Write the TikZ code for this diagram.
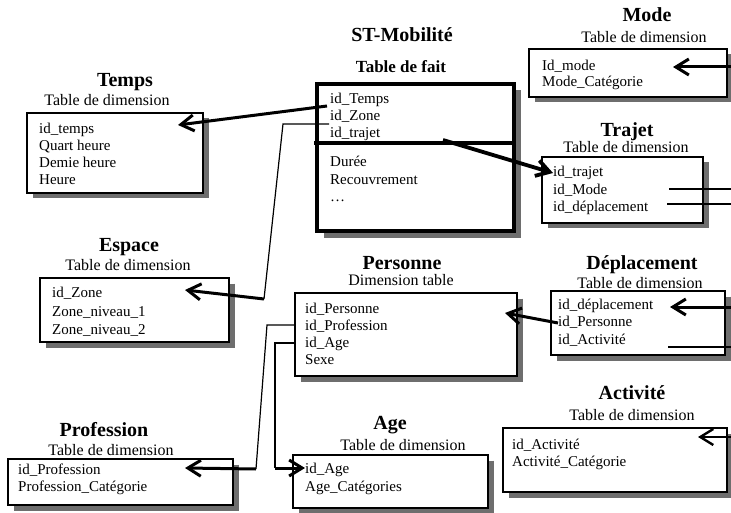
\documentclass[tikz,border=0pt]{standalone}
\usepackage{fontspec}
\setmainfont{Liberation Serif}
\usetikzlibrary{arrows.meta}
\definecolor{shadowgray}{RGB}{110,110,110}
\newcommand\mkbox[6]{% style, name, x, y, w, h
  \node[#1, minimum width=#5pt, minimum height=#6pt] (#2) at (#3,#4) {};
  \draw[shadowgray, line width=4.7pt, line join=miter]
    ([shift={(3.15,5.5)}]#2.north east) -- ([shift={(3.15,3.15)}]#2.south east) -- ([shift={(5.5,3.15)}]#2.south west);}
\begin{document}
\begin{tikzpicture}[x=1pt,y=-1pt,
  box/.style={draw=black, line width=1.6pt, fill=white, inner sep=0pt, outer sep=0pt, anchor=north west},
  factbox/.style={draw=black, line width=4.5pt, fill=white, inner sep=0pt, outer sep=0pt, anchor=north west},
  ttl/.style={font=\fontsize{20}{22}\selectfont\bfseries, inner sep=0pt},
  sub/.style={font=\fontsize{16}{18}\selectfont, inner sep=0pt},
  row/.style={font=\fontsize{15}{17}\selectfont, anchor=west, inner sep=0pt, text height=11pt, text depth=3pt},
  arr/.style={line width=3pt, line join=miter, -{Straight Barb[length=13pt,width=16pt]}},
  thinln/.style={line width=1.2pt},
  medln/.style={line width=2pt}
]
\useasboundingbox (0,0) rectangle (731,513);

% ---------- boxes (with shadows) ----------
\mkbox{box}{temps}{27}{113}{176}{80}
\mkbox{box}{mode}{529}{49}{198}{48}
\mkbox{box}{trajet}{542}{157}{161}{66}
\mkbox{box}{espace}{40}{278}{189}{64}
\mkbox{box}{personne}{295}{293}{222}{83}
\mkbox{box}{deplacement}{551}{291}{174}{64}
\mkbox{box}{profession}{8}{459}{225}{46}
\mkbox{box}{age}{293}{455}{195}{53}
\mkbox{box}{activite}{503}{428}{224}{64}
\node[factbox, minimum width=197pt, minimum height=147pt] (fact) at (317,84) {};
\draw[shadowgray, line width=4.3pt, line join=miter]
  ([shift={(4.4,6.5)}]fact.north east) -- ([shift={(4.4,4.4)}]fact.south east) -- ([shift={(6.5,4.4)}]fact.south west);

\draw[line width=4.5pt] (fact.west |- 0,143) ++(-3,0) coordinate (div1) -- (fact.east |- 0,143) coordinate (div2);

% ---------- titles ----------
\node[ttl] (t-temps) at (125,82) {Temps};
\node[sub] (s-temps) at (107,100) {Table de dimension};
\node[ttl] (t-fact) at (402,35) {ST-Mobilité};
\node[font=\fontsize{17}{19}\selectfont\bfseries, inner sep=0pt] (s-fact) at (401,67) {Table de fait};
\node[ttl] (t-mode) at (647,15) {Mode};
\node[sub] (s-mode) at (644,37) {Table de dimension};
\node[ttl] (t-trajet) at (627,132) {Trajet};
\node[sub] (s-trajet) at (626,147) {Table de dimension};
\node[ttl] (t-espace) at (129,247) {Espace};
\node[sub] (s-espace) at (128,265) {Table de dimension};
\node[ttl] (t-personne) at (402,263) {Personne};
\node[sub] (s-personne) at (401,280) {Dimension table};
\node[ttl] (t-depl) at (642,265) {Déplacement};
\node[sub] (s-depl) at (640,283) {Table de dimension};
\node[ttl] (t-prof) at (104,430) {Profession};
\node[sub] (s-prof) at (111,450) {Table de dimension};
\node[ttl] (t-age) at (390,425) {Age};
\node[sub] (s-age) at (403,445) {Table de dimension};
\node[ttl] (t-act) at (632,393) {Activité};
\node[sub] (s-act) at (632,415) {Table de dimension};

% ---------- rows ----------
\node[row] (temps1) at (39,130) {id\_temps};
\node[row] (temps2) at (39,147) {Quart heure};
\node[row] (temps3) at (39,164) {Demie heure};
\node[row] (temps4) at (39,181) {Heure};

\node[row] (fact1) at (330,100) {id\_Temps};
\node[row] (fact2) at (330,117) {id\_Zone};
\node[row] (fact3) at (330,134) {id\_trajet};
\node[row] (fact4) at (330,163) {Durée};
\node[row] (fact5) at (330,181) {Recouvrement};
\node[row] (fact6) at (330,198) {\dots};

\node[row] (mode1) at (542,67) {Id\_mode};
\node[row] (mode2) at (542,83) {Mode\_Catégorie};

\node[row] (traj1) at (553,173) {id\_trajet};
\node[row] (traj2) at (553,191) {id\_Mode};
\node[row] (traj3) at (553,208) {id\_déplacement};

\node[row] (esp1) at (52,294) {id\_Zone};
\node[row] (esp2) at (52,312) {Zone\_niveau\_1};
\node[row] (esp3) at (52,330) {Zone\_niveau\_2};

\node[row] (pers1) at (305,309) {id\_Personne};
\node[row] (pers2) at (305,326) {id\_Profession};
\node[row] (pers3) at (305,343) {id\_Age};
\node[row] (pers4) at (305,360) {Sexe};

\node[row] (depl1) at (558,305) {id\_déplacement};
\node[row] (depl2) at (558,322) {id\_Personne};
\node[row] (depl3) at (558,340) {id\_Activité};

\node[row] (prof1) at (18,470) {id\_Profession};
\node[row] (prof2) at (18,487) {Profession\_Catégorie};

\node[row] (age1) at (305,469) {id\_Age};
\node[row] (age2) at (305,487) {Age\_Catégories};

\node[row] (act1) at (512,445) {id\_Activité};
\node[row] (act2) at (512,462) {Activité\_Catégorie};

% ---------- connector points ----------
\coordinate (cTa) at (327,106);
\coordinate (cTb) at (178,125);
\coordinate (cZa) at (329,124);
\coordinate (cZb) at (283,124);
\coordinate (cZc) at (264,299);
\coordinate (cZd) at (185,290);
\coordinate (cRa) at (443,140);
\coordinate (cRb) at (553,173);
\coordinate (cMa) at (735,67);
\coordinate (cMb) at (673,67);
\coordinate (cD1a) at (669,189);
\coordinate (cD1b) at (735,189);
\coordinate (cD2a) at (667,204);
\coordinate (cD2b) at (735,204);
\coordinate (cPa) at (735,307);
\coordinate (cPb) at (670,307);
\coordinate (cAa) at (668,347);
\coordinate (cAb) at (735,347);
\coordinate (cQa) at (558,323);
\coordinate (cQb) at (505,313);
\coordinate (cFa) at (295,325);
\coordinate (cFb) at (267,325);
\coordinate (cFc) at (256,469);
\coordinate (cFd) at (185,468);
\coordinate (cGa) at (295,343);
\coordinate (cGb) at (275,343);
\coordinate (cGc) at (275,468);
\coordinate (cGd) at (305,468);
\coordinate (cKa) at (735,437);
\coordinate (cKb) at (698,437);

% ---------- connectors ----------
\draw[arr] (cTa) -- (cTb);
\draw[thinln] (cZa) -- (cZb) -- (cZc);
\draw[arr] (cZc) -- (cZd);
\draw[arr, line width=3.8pt] (cRa) -- (cRb);
\draw[arr] (cMa) -- (cMb);
\draw[thinln] (cD1a) -- (cD1b);
\draw[thinln] (cD2a) -- (cD2b);
\draw[arr] (cPa) -- (cPb);
\draw[thinln] (cAa) -- (cAb);
\draw[arr] (cQa) -- (cQb);
\draw[thinln] (cFa) -- (cFb) -- (cFc);
\draw[arr] (cFc) -- (cFd);
\draw[medln] (cGa) -- (cGb) -- (cGc);
\draw[arr] (cGc) -- (cGd);
\draw[arr, line width=2.4pt] (cKa) -- (cKb);
\end{tikzpicture}
\end{document}
